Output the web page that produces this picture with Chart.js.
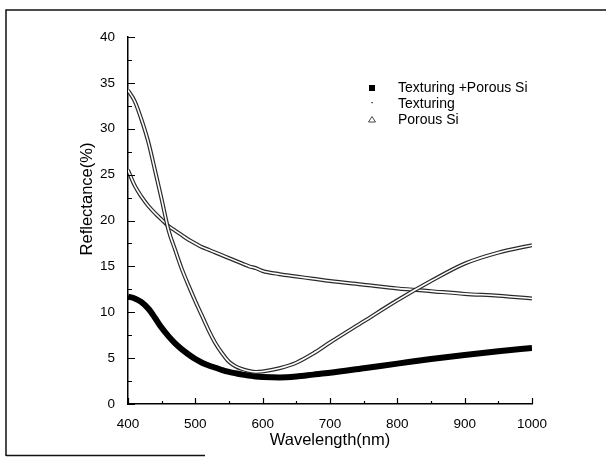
<!DOCTYPE html>
<html>
<head>
<meta charset="utf-8">
<script src="https://cdn.jsdelivr.net/npm/chart.js@4.4.1/dist/chart.umd.min.js"></script>
<style>
  html, body { margin: 0; padding: 0; background: #fff; }
  canvas { display: block; }
</style>
</head>
<body>
<canvas id="chart" width="606" height="457"></canvas>
<script>
// wavelength grid (nm)
const wavelengths = [400, 410, 420, 430, 440, 450, 460, 470, 480, 490, 500, 510, 520, 530, 540, 550,
  560, 570, 580, 590, 600, 625, 650, 675, 700, 750, 800, 850, 900, 950, 1000];

// reflectance (%)
const texturingPorous = [11.7, 11.5, 11.1, 10.4, 9.4, 8.3, 7.4, 6.6, 5.95, 5.4, 4.9, 4.5, 4.2, 3.95, 3.7, 3.5,
  3.35, 3.2, 3.1, 3.0, 2.95, 2.9, 3.0, 3.2, 3.4, 3.9, 4.4, 4.9, 5.35, 5.75, 6.1];
const texturing = [25.5, 23.8, 22.6, 21.6, 20.8, 20.1, 19.4, 18.9, 18.4, 17.9, 17.5, 17.1, 16.8, 16.5, 16.2, 15.9,
  15.6, 15.3, 15.0, 14.8, 14.5, 14.15, 13.9, 13.65, 13.4, 13.0, 12.6, 12.3, 12.0, 11.8, 11.5];
const porousSi = [34.2, 33.0, 31.0, 28.6, 25.5, 22.3, 19.0, 16.8, 14.7, 12.9, 11.2, 9.6, 8.0, 6.6, 5.5, 4.6,
  4.1, 3.8, 3.6, 3.5, 3.55, 3.9, 4.5, 5.5, 6.7, 9.0, 11.3, 13.4, 15.3, 16.5, 17.3];

const seriesLabels = ["Texturing +Porous Si", "Texturing", "Porous Si"];

const xTicks = [400, 500, 600, 700, 800, 900, 1000];
const yTicks = [0, 5, 10, 15, 20, 25, 30, 35, 40];

const FONT = "'Liberation Sans', Arial, sans-serif";

function pts(ys) {
  return wavelengths.map((x, i) => ({ x, y: ys[i] }));
}

// tube look: dark wide line with a thin white line on top
function tube(label, ys, order) {
  return [
    {
      label,
      data: pts(ys),
      borderColor: "#2a2a2a",
      borderWidth: 4,
      pointRadius: 0,
      cubicInterpolationMode: "monotone",
      order: order + 1,
    },
    {
      label: label + "_inner",
      data: pts(ys),
      borderColor: "#ffffff",
      borderWidth: 1.6,
      pointRadius: 0,
      cubicInterpolationMode: "monotone",
      order: order,
    },
  ];
}

// inward major/minor ticks, frame, axis titles, legend
const decorations = {
  id: "decorations",
  beforeDraw(chart) {
    const ctx = chart.ctx;
    ctx.save();
    ctx.strokeStyle = "#111";
    ctx.lineWidth = 1.5;
    ctx.beginPath();
    ctx.moveTo(6, 456);
    ctx.lineTo(6, 10);
    ctx.lineTo(606, 10);
    ctx.moveTo(6, 455.5);
    ctx.lineTo(205, 455.5);
    ctx.stroke();
    ctx.restore();
  },
  afterDraw(chart) {
    const ctx = chart.ctx;
    const xs = chart.scales.x;
    const ys = chart.scales.y;
    const area = chart.chartArea;
    ctx.save();
    ctx.strokeStyle = "#000";
    ctx.lineWidth = 1.2;
    ctx.beginPath();
    for (let v = 0; v <= 40; v += 2.5) {
      const py = Math.round(ys.getPixelForValue(v)) + 0.5;
      const len = v % 5 === 0 ? 7 : 4;
      ctx.moveTo(area.left, py);
      ctx.lineTo(area.left + len, py);
    }
    for (let v = 400; v <= 1000; v += 50) {
      const px = Math.round(xs.getPixelForValue(v)) + 0.5;
      const len = v % 100 === 0 ? 6 : 3;
      ctx.moveTo(px, area.bottom);
      ctx.lineTo(px, area.bottom - len);
    }
    ctx.stroke();

    // axis titles
    ctx.fillStyle = "#000";
    ctx.font = "16.5px " + FONT;
    ctx.textAlign = "center";
    ctx.textBaseline = "middle";
    ctx.fillText("Wavelength(nm)", (area.left + area.right) / 2, 440);
    ctx.translate(87, 199);
    ctx.rotate(-Math.PI / 2);
    ctx.fillText("Reflectance(%)", 0, 0);
    ctx.restore();

    // legend
    ctx.save();
    ctx.font = "14px " + FONT;
    ctx.fillStyle = "#000";
    ctx.textAlign = "left";
    ctx.textBaseline = "middle";
    const rows = [88, 104, 120];
    seriesLabels.forEach((lab, i) => ctx.fillText(lab, 398, rows[i]));
    ctx.fillRect(369, rows[0] - 3, 6, 6);
    ctx.fillRect(371.5, rows[1] - 2, 1.2, 1.2);
    ctx.strokeStyle = "#333";
    ctx.lineWidth = 0.9;
    ctx.beginPath();
    ctx.moveTo(372, rows[2] - 3.5);
    ctx.lineTo(375.5, rows[2] + 2);
    ctx.lineTo(368.5, rows[2] + 2);
    ctx.closePath();
    ctx.stroke();
    ctx.restore();
  },
};

new Chart(document.getElementById("chart"), {
  type: "line",
  data: {
    datasets: [
      {
        label: seriesLabels[0],
        data: pts(texturingPorous),
        borderColor: "#000",
        borderWidth: 6,
        pointRadius: 0,
        cubicInterpolationMode: "monotone",
        order: 5,
      },
      ...tube(seriesLabels[1], texturing, 3),
      ...tube(seriesLabels[2], porousSi, 1),
    ],
  },
  options: {
    responsive: false,
    devicePixelRatio: 1,
    animation: false,
    layout: { padding: { left: 0, top: 37, right: 74, bottom: 0 } },
    plugins: {
      legend: { display: false },
      tooltip: { enabled: false },
    },
    scales: {
      x: {
        type: "linear",
        min: 400,
        max: 1000,
        afterFit: (s) => { s.height = 53; },
        afterBuildTicks: (s) => { s.ticks = xTicks.map((v) => ({ value: v })); },
        grid: { display: false },
        border: { display: true, color: "#000", width: 1.5 },
        ticks: {
          color: "#000", font: { family: FONT, size: 13.5 }, padding: 4, maxRotation: 0,
          callback: (v) => String(v),
        },
      },
      y: {
        min: 0,
        max: 40,
        afterFit: (s) => { s.width = 128; },
        afterBuildTicks: (s) => { s.ticks = yTicks.map((v) => ({ value: v })); },
        grid: { display: false },
        border: { display: true, color: "#000", width: 1.5 },
        ticks: {
          color: "#000", font: { family: FONT, size: 13.5 }, padding: 5,
          callback: (v) => String(v),
        },
      },
    },
  },
  plugins: [decorations],
});
</script>
</body>
</html>
